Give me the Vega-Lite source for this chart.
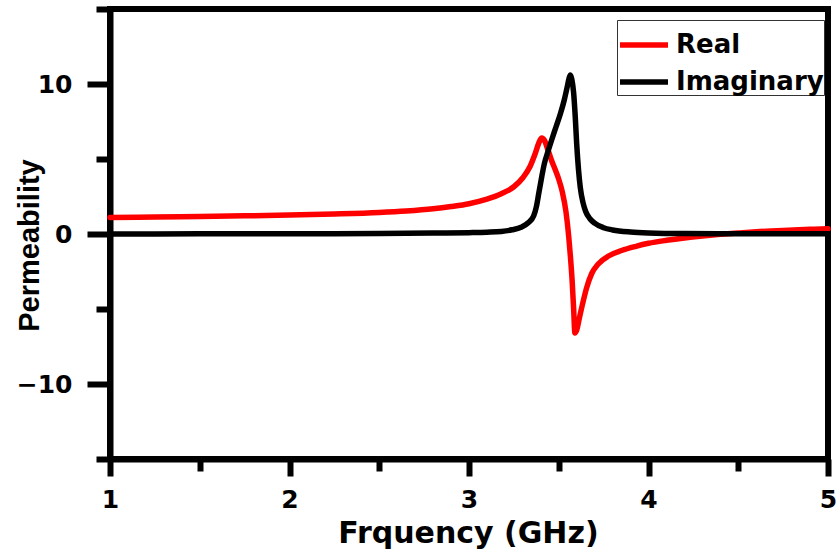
{
  "$schema": "https://vega.github.io/schema/vega-lite/v6.json",
  "width": 718,
  "height": 450,
  "autosize": {"type": "none"},
  "padding": {"left": 110, "top": 9, "right": 12, "bottom": 94},
  "background": "white",
  "config": {
    "view": {"stroke": "black", "strokeWidth": 6},
    "axis": {
      "grid": false,
      "domainColor": "black",
      "domainWidth": 6,
      "tickColor": "black",
      "tickWidth": 6,
      "labelColor": "black",
      "labelFont": "DejaVu Sans",
      "labelFontWeight": "bold",
      "labelFontSize": 25,
      "titleColor": "black",
      "titleFont": "DejaVu Sans",
      "titleFontWeight": "bold",
      "titleFontSize": 30
    }
  },
  "datasets": {
    "curves": [
      {"f": 1.0, "mu": 1.10, "series": "Real"},
      {"f": 1.25, "mu": 1.13, "series": "Real"},
      {"f": 1.5, "mu": 1.17, "series": "Real"},
      {"f": 1.75, "mu": 1.21, "series": "Real"},
      {"f": 2.0, "mu": 1.26, "series": "Real"},
      {"f": 2.25, "mu": 1.33, "series": "Real"},
      {"f": 2.5, "mu": 1.43, "series": "Real"},
      {"f": 2.65, "mu": 1.53, "series": "Real"},
      {"f": 2.8, "mu": 1.68, "series": "Real"},
      {"f": 2.9, "mu": 1.83, "series": "Real"},
      {"f": 3.0, "mu": 2.02, "series": "Real"},
      {"f": 3.1, "mu": 2.32, "series": "Real"},
      {"f": 3.18, "mu": 2.68, "series": "Real"},
      {"f": 3.25, "mu": 3.15, "series": "Real"},
      {"f": 3.3, "mu": 3.75, "series": "Real"},
      {"f": 3.34, "mu": 4.5, "series": "Real"},
      {"f": 3.37, "mu": 5.4, "series": "Real"},
      {"f": 3.39, "mu": 6.1, "series": "Real"},
      {"f": 3.405, "mu": 6.4, "series": "Real"},
      {"f": 3.42, "mu": 6.25, "series": "Real"},
      {"f": 3.44, "mu": 5.6, "series": "Real"},
      {"f": 3.46, "mu": 4.9, "series": "Real"},
      {"f": 3.48, "mu": 4.3, "series": "Real"},
      {"f": 3.5, "mu": 3.65, "series": "Real"},
      {"f": 3.52, "mu": 2.8, "series": "Real"},
      {"f": 3.54, "mu": 1.5, "series": "Real"},
      {"f": 3.555, "mu": -0.1, "series": "Real"},
      {"f": 3.565, "mu": -1.5, "series": "Real"},
      {"f": 3.575, "mu": -3.2, "series": "Real"},
      {"f": 3.583, "mu": -5.0, "series": "Real"},
      {"f": 3.59, "mu": -6.6, "series": "Real"},
      {"f": 3.6, "mu": -6.4, "series": "Real"},
      {"f": 3.615, "mu": -5.6, "series": "Real"},
      {"f": 3.63, "mu": -4.8, "series": "Real"},
      {"f": 3.655, "mu": -3.6, "series": "Real"},
      {"f": 3.685, "mu": -2.6, "series": "Real"},
      {"f": 3.72, "mu": -2.0, "series": "Real"},
      {"f": 3.78, "mu": -1.45, "series": "Real"},
      {"f": 3.85, "mu": -1.1, "series": "Real"},
      {"f": 3.93, "mu": -0.82, "series": "Real"},
      {"f": 4.0, "mu": -0.62, "series": "Real"},
      {"f": 4.1, "mu": -0.42, "series": "Real"},
      {"f": 4.2, "mu": -0.26, "series": "Real"},
      {"f": 4.3, "mu": -0.13, "series": "Real"},
      {"f": 4.4, "mu": -0.02, "series": "Real"},
      {"f": 4.5, "mu": 0.07, "series": "Real"},
      {"f": 4.6, "mu": 0.15, "series": "Real"},
      {"f": 4.75, "mu": 0.24, "series": "Real"},
      {"f": 4.9, "mu": 0.31, "series": "Real"},
      {"f": 5.0, "mu": 0.35, "series": "Real"},
      {"f": 1.0, "mu": 0.0, "series": "Imaginary"},
      {"f": 1.5, "mu": 0.01, "series": "Imaginary"},
      {"f": 2.0, "mu": 0.02, "series": "Imaginary"},
      {"f": 2.5, "mu": 0.03, "series": "Imaginary"},
      {"f": 2.8, "mu": 0.06, "series": "Imaginary"},
      {"f": 3.0, "mu": 0.09, "series": "Imaginary"},
      {"f": 3.1, "mu": 0.12, "series": "Imaginary"},
      {"f": 3.18, "mu": 0.17, "series": "Imaginary"},
      {"f": 3.24, "mu": 0.28, "series": "Imaginary"},
      {"f": 3.29, "mu": 0.45, "series": "Imaginary"},
      {"f": 3.33, "mu": 0.75, "series": "Imaginary"},
      {"f": 3.36, "mu": 1.2, "series": "Imaginary"},
      {"f": 3.375, "mu": 1.8, "series": "Imaginary"},
      {"f": 3.39, "mu": 2.8, "series": "Imaginary"},
      {"f": 3.405, "mu": 3.8, "series": "Imaginary"},
      {"f": 3.42, "mu": 4.7, "series": "Imaginary"},
      {"f": 3.44, "mu": 5.5, "series": "Imaginary"},
      {"f": 3.46, "mu": 6.25, "series": "Imaginary"},
      {"f": 3.485, "mu": 7.15, "series": "Imaginary"},
      {"f": 3.51, "mu": 8.05, "series": "Imaginary"},
      {"f": 3.53, "mu": 8.9, "series": "Imaginary"},
      {"f": 3.547, "mu": 9.8, "series": "Imaginary"},
      {"f": 3.558, "mu": 10.4, "series": "Imaginary"},
      {"f": 3.565, "mu": 10.6, "series": "Imaginary"},
      {"f": 3.573, "mu": 10.3, "series": "Imaginary"},
      {"f": 3.583, "mu": 9.4, "series": "Imaginary"},
      {"f": 3.592, "mu": 7.8, "series": "Imaginary"},
      {"f": 3.6, "mu": 6.0, "series": "Imaginary"},
      {"f": 3.61, "mu": 4.3, "series": "Imaginary"},
      {"f": 3.62, "mu": 3.1, "series": "Imaginary"},
      {"f": 3.635, "mu": 2.1, "series": "Imaginary"},
      {"f": 3.65, "mu": 1.5, "series": "Imaginary"},
      {"f": 3.675, "mu": 1.0, "series": "Imaginary"},
      {"f": 3.7, "mu": 0.72, "series": "Imaginary"},
      {"f": 3.75, "mu": 0.42, "series": "Imaginary"},
      {"f": 3.8, "mu": 0.27, "series": "Imaginary"},
      {"f": 3.9, "mu": 0.13, "series": "Imaginary"},
      {"f": 4.0, "mu": 0.07, "series": "Imaginary"},
      {"f": 4.2, "mu": 0.03, "series": "Imaginary"},
      {"f": 4.5, "mu": 0.02, "series": "Imaginary"},
      {"f": 5.0, "mu": 0.01, "series": "Imaginary"}
    ]
  },
  "layer": [
    {
      "data": {"name": "curves"},
      "mark": {"type": "line", "strokeWidth": 5.5, "interpolate": "monotone", "strokeCap": "round", "strokeJoin": "round"},
      "encoding": {
        "x": {
          "field": "f", "type": "quantitative",
          "scale": {"domain": [1, 5], "nice": false, "zero": false},
          "axis": {
            "orient": "bottom",
            "values": [1, 2, 3, 4, 5],
            "format": "d",
            "tickSize": 17,
            "labelPadding": 11,
            "labelFlush": false,
            "labelOverlap": false,
            "title": "Frquency (GHz)",
            "titleBaseline": "alphabetic",
            "titleX": 358,
            "titleY": 83
          }
        },
        "y": {
          "field": "mu", "type": "quantitative",
          "scale": {"domain": [-15, 15], "nice": false, "zero": false},
          "axis": {
            "orient": "left",
            "values": [-10, 0, 10],
            "format": "d",
            "tickSize": 23,
            "labelPadding": 15,
            "labelFlush": false,
            "labelOverlap": false,
            "title": "Permeability",
            "titleFont": "Liberation Sans",
            "titleFontSize": 29,
            "titleBaseline": "alphabetic",
            "titleX": -72,
            "titleY": 236
          }
        },
        "color": {
          "field": "series", "type": "nominal",
          "sort": ["Real", "Imaginary"],
          "scale": {"domain": ["Real", "Imaginary"], "range": ["#ff0000", "#000000"]},
          "legend": {
            "orient": "none",
            "legendX": 507,
            "legendY": 11,
            "title": " ",
            "titleFontSize": 10,
            "titlePadding": 0,
            "padding": 0,
            "strokeColor": "#333333",
            "fillColor": "white",
            "symbolType": "M-1,0H3",
            "symbolSize": 576,
            "symbolStrokeWidth": 5.5,
            "labelFont": "DejaVu Sans",
            "labelFontWeight": "bold",
            "labelFontSize": 26,
            "labelColor": "black",
            "labelOffset": 29,
            "rowPadding": 9,
            "labelLimit": 300
          }
        }
      }
    },
    {
      "data": {"name": "curves"},
      "mark": {"type": "point", "opacity": 0},
      "encoding": {
        "x": {
          "field": "f", "type": "quantitative",
          "axis": {"orient": "bottom", "values": [1.5, 2.5, 3.5, 4.5], "tickSize": 12, "labels": false, "domain": false, "title": null}
        },
        "y": {
          "field": "mu", "type": "quantitative",
          "axis": {"orient": "left", "values": [-15, -5, 5, 15], "tickSize": 14, "labels": false, "domain": false, "title": null}
        }
      }
    }
  ],
  "resolve": {"axis": {"x": "independent", "y": "independent"}}
}
